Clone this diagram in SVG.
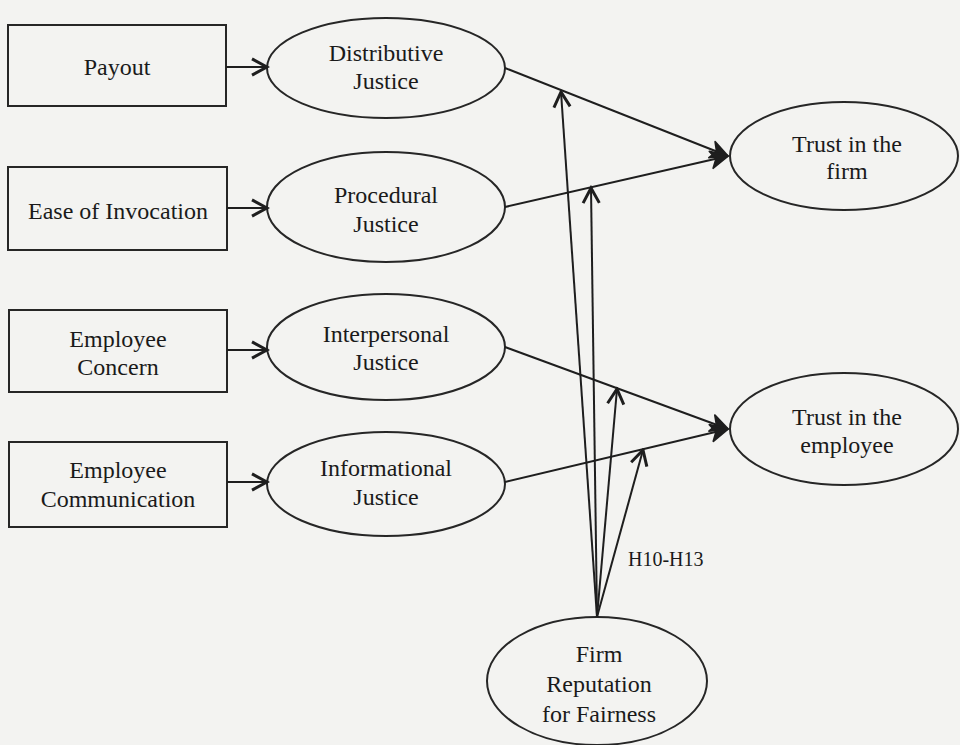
<svg xmlns="http://www.w3.org/2000/svg" width="960" height="745" viewBox="0 0 960 745">
  <defs>
    <marker id="chev" markerUnits="userSpaceOnUse" markerWidth="20" markerHeight="20" viewBox="-14 -8 16 16" refX="0" refY="0" orient="auto">
      <path d="M-12,-6.5 L0,0 L-12,6.5" fill="none" stroke="#1e1e1e" stroke-width="2.4"/>
    </marker>
    <marker id="solid" markerUnits="userSpaceOnUse" markerWidth="22" markerHeight="22" viewBox="-16 -9 18 18" refX="0" refY="0" orient="auto">
      <path d="M-14,-7 L0,0 L-14,7 L-10,0 Z" fill="#1e1e1e" stroke="#1e1e1e" stroke-width="1.5" stroke-linejoin="round"/>
    </marker>
  </defs>
  <style>
    .shape { fill: none; stroke: #262626; stroke-width: 2; }
    .edge { fill: none; stroke: #1e1e1e; stroke-width: 2; }
    text { font-family: "Liberation Serif", "Times New Roman", serif; font-size: 24px; fill: #1a1a1a; text-anchor: middle; }
    .small { font-size: 20px; text-anchor: start; }
  </style>
  <rect x="0" y="0" width="960" height="745" fill="#f3f3f1"/>

  <!-- antecedent boxes -->
  <g id="payout">
    <rect class="shape" x="8" y="25" width="218" height="81"/>
    <text x="117" y="75">Payout</text>
  </g>
  <g id="ease-of-invocation">
    <rect class="shape" x="8" y="167" width="219" height="83"/>
    <text x="118" y="219">Ease of Invocation</text>
  </g>
  <g id="employee-concern">
    <rect class="shape" x="9" y="310" width="218" height="82"/>
    <text x="118" y="347">Employee</text>
    <text x="118" y="375">Concern</text>
  </g>
  <g id="employee-communication">
    <rect class="shape" x="9" y="442" width="218" height="85"/>
    <text x="118" y="478">Employee</text>
    <text x="118" y="507">Communication</text>
  </g>

  <!-- justice constructs -->
  <g id="distributive-justice">
    <ellipse class="shape" cx="386" cy="68" rx="119" ry="50"/>
    <text x="386" y="61">Distributive</text>
    <text x="386" y="89">Justice</text>
  </g>
  <g id="procedural-justice">
    <ellipse class="shape" cx="386" cy="207" rx="119" ry="55"/>
    <text x="386" y="203">Procedural</text>
    <text x="386" y="232">Justice</text>
  </g>
  <g id="interpersonal-justice">
    <ellipse class="shape" cx="386" cy="347" rx="119" ry="53"/>
    <text x="386" y="342">Interpersonal</text>
    <text x="386" y="370">Justice</text>
  </g>
  <g id="informational-justice">
    <ellipse class="shape" cx="386" cy="484" rx="119" ry="52"/>
    <text x="386" y="476">Informational</text>
    <text x="386" y="505">Justice</text>
  </g>

  <!-- outcomes -->
  <g id="trust-firm">
    <ellipse class="shape" cx="844" cy="156" rx="114" ry="54"/>
    <text x="847" y="152">Trust in the</text>
    <text x="847" y="179">firm</text>
  </g>
  <g id="trust-employee">
    <ellipse class="shape" cx="844" cy="429" rx="114" ry="56"/>
    <text x="847" y="425">Trust in the</text>
    <text x="847" y="453">employee</text>
  </g>

  <!-- moderator -->
  <g id="firm-reputation">
    <ellipse class="shape" cx="597" cy="681" rx="110" ry="64"/>
    <text x="599" y="662">Firm</text>
    <text x="599" y="692">Reputation</text>
    <text x="599" y="722">for Fairness</text>
  </g>

  <g id="connectors">
    <line class="edge" x1="226" y1="67" x2="267" y2="67" marker-end="url(#chev)"/>
    <line class="edge" x1="227" y1="208" x2="267" y2="208" marker-end="url(#chev)"/>
    <line class="edge" x1="227" y1="350" x2="267" y2="350" marker-end="url(#chev)"/>
    <line class="edge" x1="227" y1="482" x2="267" y2="482" marker-end="url(#chev)"/>

    <line class="edge" x1="505" y1="68" x2="728" y2="156" marker-end="url(#solid)"/>
    <line class="edge" x1="505" y1="207" x2="728" y2="156" marker-end="url(#solid)"/>
    <line class="edge" x1="505" y1="347" x2="728" y2="429" marker-end="url(#solid)"/>
    <line class="edge" x1="505" y1="482" x2="728" y2="429" marker-end="url(#solid)"/>

    <line class="edge" x1="597" y1="617" x2="561" y2="92" marker-end="url(#chev)"/>
    <line class="edge" x1="597" y1="617" x2="591" y2="188" marker-end="url(#chev)"/>
    <line class="edge" x1="597" y1="617" x2="617" y2="389" marker-end="url(#chev)"/>
    <line class="edge" x1="597" y1="617" x2="643" y2="450" marker-end="url(#chev)"/>
    <text class="small" x="628" y="566">H10-H13</text>
  </g>
</svg>
